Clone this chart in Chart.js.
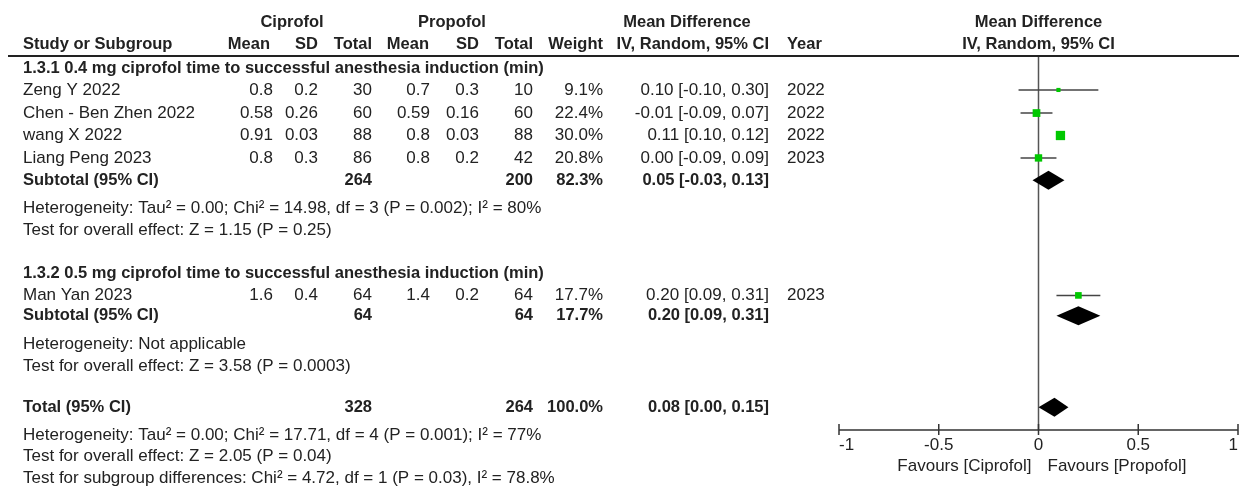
<!DOCTYPE html>
<html>
<head>
    <title>Ciprofol vs Propofol forest plot</title>
    <script src="https://cdn.jsdelivr.net/npm/chart.js"></script>
    <style>
        body { margin: 0; background: #fff; overflow: hidden; }
        #forest { display: block; }
    </style>
</head>
<body>
    <canvas id="forest" width="1239" height="487"></canvas>
    <script>
        // Study level data
        const studies = ['Zeng Y 2022', 'Chen - Ben Zhen 2022', 'wang X 2022', 'Liang Peng 2023', 'Man Yan 2023'];
        const cipMean = [0.8, 0.58, 0.91, 0.8, 1.6];
        const cipSD = [0.2, 0.26, 0.03, 0.3, 0.4];
        const cipN = [30, 60, 88, 86, 64];
        const proMean = [0.7, 0.59, 0.8, 0.8, 1.4];
        const proSD = [0.3, 0.16, 0.03, 0.2, 0.2];
        const proN = [10, 60, 88, 42, 64];
        const weight = [9.1, 22.4, 30.0, 20.8, 17.7];
        const md = [0.10, -0.01, 0.11, 0.00, 0.20];
        const ciLow = [-0.10, -0.09, 0.10, -0.09, 0.09];
        const ciHigh = [0.30, 0.07, 0.12, 0.09, 0.31];
        const years = [2022, 2022, 2022, 2023, 2023];

        // Pooled results: subtotal 1.3.1, subtotal 1.3.2, total
        const pooledLabels = ['Subtotal (95% CI)', 'Subtotal (95% CI)', 'Total (95% CI)'];
        const pooledCipN = [264, 64, 328];
        const pooledProN = [200, 64, 264];
        const pooledWeight = [82.3, 17.7, 100.0];
        const pooledMD = [0.05, 0.20, 0.08];
        const pooledLow = [-0.03, 0.09, 0.00];
        const pooledHigh = [0.13, 0.31, 0.15];

        const subgroupTitles = [
            '1.3.1 0.4 mg ciprofol time to successful anesthesia induction (min)',
            '1.3.2 0.5 mg ciprofol time to successful anesthesia induction (min)'
        ];
        const subgroupNotes = [
            ['Heterogeneity: Tau\u00b2 = 0.00; Chi\u00b2 = 14.98, df = 3 (P = 0.002); I\u00b2 = 80%',
             'Test for overall effect: Z = 1.15 (P = 0.25)'],
            ['Heterogeneity: Not applicable',
             'Test for overall effect: Z = 3.58 (P = 0.0003)'],
            ['Heterogeneity: Tau\u00b2 = 0.00; Chi\u00b2 = 17.71, df = 4 (P = 0.001); I\u00b2 = 77%',
             'Test for overall effect: Z = 2.05 (P = 0.04)',
             'Test for subgroup differences: Chi\u00b2 = 4.72, df = 1 (P = 0.03), I\u00b2 = 78.8%']
        ];
        const xTicks = [-1, -0.5, 0, 0.5, 1];
        const favourLeft = 'Favours [Ciprofol]';
        const favourRight = 'Favours [Propofol]';

        // Row slots (in line units on the y scale)
        const studySlots = [4.09, 5.14, 6.16, 7.18, 13.43];
        const pooledSlots = [8.2, 14.36, 18.52];
        const titleSlots = [3.09, 12.41];
        const noteSlots = [[9.45, 10.45], [15.64, 16.64], [19.77, 20.75, 21.73]];
        const headSlot1 = 1.0, headSlot2 = 2.02, ruleSlot = 2.545;
        const axisSlot = 19.55, tickLabelSlot = 20.25, favourSlot = 21.18;

        const FONT = '"Liberation Sans", Arial, sans-serif';
        const SIZE = 17;
        const BOLD = 16.5;
        const TEXT = '#222';

        const fmt = (v) => v.toFixed(2);
        const ciText = (m, lo, hi) => fmt(m) + ' [' + fmt(lo) + ', ' + fmt(hi) + ']';

        // column anchors (x px) for the table part
        const col = { name: 23, cMean: 273, cSD: 318, cN: 372, pMean: 430, pSD: 479, pN: 533, w: 603, ci: 769, year: 787 };

        const tablePlugin = {
            id: 'forestTable',
            beforeDatasetsDraw(chart) {
                const ctx = chart.ctx;
                const xs = chart.scales.x, ys = chart.scales.y;
                ctx.save();
                // line of no effect
                ctx.strokeStyle = '#555';
                ctx.lineWidth = 1.5;
                ctx.beginPath();
                ctx.moveTo(xs.getPixelForValue(0), ys.getPixelForValue(ruleSlot));
                ctx.lineTo(xs.getPixelForValue(0), ys.getPixelForValue(axisSlot));
                ctx.stroke();
                ctx.restore();
            },
            afterDatasetsDraw(chart) {
                const ctx = chart.ctx;
                const xs = chart.scales.x, ys = chart.scales.y;
                ctx.save();
                // diamonds
                ctx.fillStyle = '#000';
                pooledMD.forEach((m, i) => {
                    const y = ys.getPixelForValue(pooledSlots[i]);
                    const h = 9.5;
                    ctx.beginPath();
                    ctx.moveTo(xs.getPixelForValue(pooledLow[i]), y);
                    ctx.lineTo(xs.getPixelForValue(m), y - h);
                    ctx.lineTo(xs.getPixelForValue(pooledHigh[i]), y);
                    ctx.lineTo(xs.getPixelForValue(m), y + h);
                    ctx.closePath();
                    ctx.fill();
                });

                // axis
                const ay = ys.getPixelForValue(axisSlot);
                ctx.strokeStyle = '#333';
                ctx.lineWidth = 1.5;
                ctx.beginPath();
                ctx.moveTo(xs.getPixelForValue(-1), ay);
                ctx.lineTo(xs.getPixelForValue(1), ay);
                xTicks.forEach(t => {
                    const px = Math.min(xs.getPixelForValue(t), chart.width - 1);
                    ctx.moveTo(px, ay - 6);
                    ctx.lineTo(px, ay + 5);
                });
                ctx.stroke();

                ctx.fillStyle = TEXT;
                ctx.textBaseline = 'middle';
                ctx.font = SIZE + 'px ' + FONT;
                const ly = ys.getPixelForValue(tickLabelSlot);
                xTicks.forEach(t => {
                    const px = xs.getPixelForValue(t);
                    const s = String(t);
                    const w = ctx.measureText(s).width;
                    let left = px - w / 2;
                    left = Math.max(chart.chartArea.left, Math.min(chart.chartArea.right - w, left));
                    ctx.textAlign = 'left';
                    ctx.fillText(s, left, ly);
                });
                const fy = ys.getPixelForValue(favourSlot);
                const zx = xs.getPixelForValue(0);
                ctx.textAlign = 'right';
                ctx.fillText(favourLeft, zx - 7, fy);
                ctx.textAlign = 'left';
                ctx.fillText(favourRight, zx + 9, fy);

                // table text
                const put = (s, x, slot, align, bold) => {
                    ctx.font = bold ? 'bold ' + BOLD + 'px ' + FONT : SIZE + 'px ' + FONT;
                    ctx.textAlign = align;
                    ctx.fillText(s, x, ys.getPixelForValue(slot));
                };
                const plotMid = xs.getPixelForValue(0);
                put('Ciprofol', 292, headSlot1, 'center', true);
                put('Propofol', 452, headSlot1, 'center', true);
                put('Mean Difference', 687, headSlot1, 'center', true);
                put('Mean Difference', plotMid, headSlot1, 'center', true);
                put('Study or Subgroup', col.name, headSlot2, 'left', true);
                put('Mean', col.cMean - 3, headSlot2, 'right', true);
                put('SD', col.cSD, headSlot2, 'right', true);
                put('Total', col.cN, headSlot2, 'right', true);
                put('Mean', col.pMean - 1, headSlot2, 'right', true);
                put('SD', col.pSD, headSlot2, 'right', true);
                put('Total', col.pN, headSlot2, 'right', true);
                put('Weight', col.w, headSlot2, 'right', true);
                put('IV, Random, 95% CI', col.ci, headSlot2, 'right', true);
                put('Year', col.year, headSlot2, 'left', true);
                put('IV, Random, 95% CI', plotMid, headSlot2, 'center', true);

                // header rule
                ctx.strokeStyle = '#222';
                ctx.lineWidth = 2;
                ctx.beginPath();
                const ry = ys.getPixelForValue(ruleSlot);
                ctx.moveTo(8, ry);
                ctx.lineTo(chart.width, ry);
                ctx.stroke();

                subgroupTitles.forEach((t, i) => put(t, col.name, titleSlots[i], 'left', true));

                studies.forEach((s, i) => {
                    const y = studySlots[i];
                    put(s, col.name, y, 'left', false);
                    put(String(cipMean[i]), col.cMean, y, 'right', false);
                    put(String(cipSD[i]), col.cSD, y, 'right', false);
                    put(String(cipN[i]), col.cN, y, 'right', false);
                    put(String(proMean[i]), col.pMean, y, 'right', false);
                    put(String(proSD[i]), col.pSD, y, 'right', false);
                    put(String(proN[i]), col.pN, y, 'right', false);
                    put(weight[i].toFixed(1) + '%', col.w, y, 'right', false);
                    put(ciText(md[i], ciLow[i], ciHigh[i]), col.ci, y, 'right', false);
                    put(String(years[i]), col.year, y, 'left', false);
                });

                pooledLabels.forEach((s, i) => {
                    const y = pooledSlots[i];
                    put(s, col.name, y, 'left', true);
                    put(String(pooledCipN[i]), col.cN, y, 'right', true);
                    put(String(pooledProN[i]), col.pN, y, 'right', true);
                    put(pooledWeight[i].toFixed(1) + '%', col.w, y, 'right', true);
                    put(ciText(pooledMD[i], pooledLow[i], pooledHigh[i]), col.ci, y, 'right', true);
                });

                subgroupNotes.forEach((lines, i) => {
                    lines.forEach((s, j) => put(s, col.name, noteSlots[i][j], 'left', false));
                });
                ctx.restore();
            }
        };

        // confidence interval whiskers, one small line dataset per study
        const ciSets = studies.map((s, i) => ({
            type: 'line',
            label: s + ' CI',
            data: [{ x: ciLow[i], y: studySlots[i] }, { x: ciHigh[i], y: studySlots[i] }],
            borderColor: '#444',
            borderWidth: 1.5,
            pointRadius: 0,
            fill: false
        }));

        // square side grows with study weight
        const boxRadius = weight.map(w => (2.1 * Math.sqrt(w) - 2.2) / Math.SQRT2);

        const ctx = document.getElementById('forest').getContext('2d');
        const forestChart = new Chart(ctx, {
            type: 'scatter',
            data: {
                datasets: [{
                    label: 'Mean difference',
                    data: md.map((v, i) => ({ x: v, y: studySlots[i] })),
                    pointStyle: 'rect',
                    pointRadius: boxRadius,
                    pointHoverRadius: boxRadius,
                    backgroundColor: '#00c800',
                    borderWidth: 0
                }].concat(ciSets)
            },
            options: {
                responsive: false,
                devicePixelRatio: 1,
                animation: false,
                layout: { autoPadding: false, padding: { left: 839, right: 1, top: 0, bottom: 0 } },
                plugins: { legend: { display: false }, tooltip: { enabled: false } },
                scales: {
                    x: { type: 'linear', min: -1, max: 1, display: false },
                    y: { type: 'linear', min: 0, max: 22.14, reverse: true, display: false }
                }
            },
            plugins: [tablePlugin]
        });
    </script>
</body>
</html>
